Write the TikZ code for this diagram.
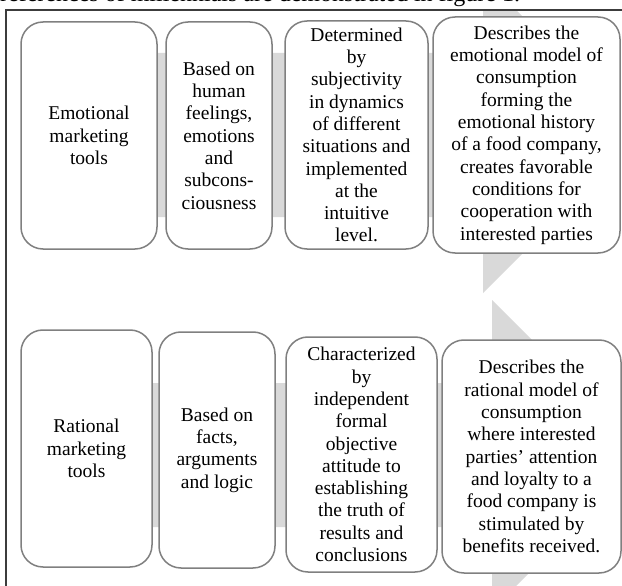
\documentclass[tikz,border=0pt]{standalone}
\usepackage{fontspec}
\setmainfont{Liberation Serif}
\usepackage{xcolor}
\usetikzlibrary{positioning}
\definecolor{arrowgray}{RGB}{217,217,217}
\definecolor{boxgray}{RGB}{128,128,128}
\definecolor{framegray}{RGB}{60,60,60}
\tikzset{
  box/.style={draw=boxgray, line width=1.5pt, fill=white, rounded corners=22pt,
    align=center, inner sep=0pt, font=\fontsize{19.5}{22.3}\selectfont},
}

\begin{document}
\begin{tikzpicture}[x=1pt,y=-1pt]
        % 画布范围
        \useasboundingbox (0,0) rectangle (622,586);
        \clip (0,0) rectangle (622,586);

        % 顶部被裁切的正文
        \node[anchor=base west, inner sep=0pt, font=\fontsize{24}{28}\selectfont] (caption) at (0,2) {references of millennials are demonstrated in figure 1.};

        % 绘制背景箭头
        \begin{scope}
        \clip (6,10) rectangle (617,586);
        \fill[arrowgray] (25,53) -- (483,53) -- (483,-23) -- (641,135) -- (483,293) -- (483,217) -- (25,217) -- cycle;
        \fill[arrowgray] (25,383) -- (492,383) -- (492,300) -- (647,455) -- (492,610) -- (492,527) -- (25,527) -- cycle;
        \end{scope}

        % 第一行方框
        \node[box, minimum width=136pt, minimum height=227pt] (emotools) at (89,135.5) {Emotional\\ marketing\\ tools};
        \node[box, minimum width=106pt, minimum height=227pt] (emobase) at (219,135.5) {Based on\\ human\\ feelings,\\ emotions\\ and\\ subcons-\\ ciousness};
        \node[box, minimum width=143pt, minimum height=228pt] (emodet) at (356.5,135) {Determined\\ by\\ subjectivity\\ in dynamics\\ of different\\ situations and\\ implemented\\ at the\\ intuitive\\ level.};
        \node[box, minimum width=187pt, minimum height=236pt] (emomodel) at (526.5,135) {Describes the\\ emotional model of\\ consumption\\ forming the\\ emotional history\\ of a food company,\\ creates favorable\\ conditions for\\ cooperation with\\ interested parties};

        % 第二行方框
        \node[box, minimum width=131pt, minimum height=237pt] (ratools) at (86.5,448.5) {Rational\\ marketing\\ tools};
        \node[box, minimum width=116pt, minimum height=236pt] (ratbase) at (217,450) {Based on\\ facts,\\ arguments\\ and logic};
        \node[box, minimum width=151pt, minimum height=235pt] (ratchar) at (361.5,454.5) {Characterized\\ by\\ independent\\ formal\\ objective\\ attitude to\\ establishing\\ the truth of\\ results and\\ conclusions};
        \node[box, minimum width=179pt, minimum height=233pt] (ratmodel) at (531.5,456.5) {Describes the\\ rational model of\\ consumption\\ where interested\\ parties' attention\\ and loyalty to a\\ food company is\\ stimulated by\\ benefits received.};

        % 外框线
        \draw[framegray, line width=1.6pt] (622,10) -- (6,10) -- (6,586);
\end{tikzpicture}
\end{document}
